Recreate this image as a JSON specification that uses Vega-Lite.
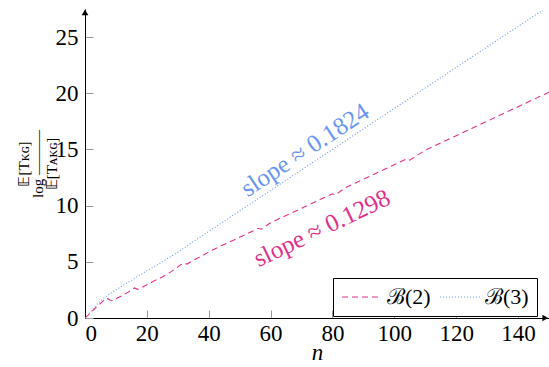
{
  "$schema": "https://vega.github.io/schema/vega-lite/v6.json",
  "width": 464,
  "height": 309,
  "autosize": {"type": "none"},
  "padding": {"left": 85, "top": 9, "right": 0, "bottom": 49},
  "background": "white",
  "config": {
    "view": {"stroke": null},
    "font": "Liberation Serif",
    "axis": {"grid": false, "domainColor": "#000000", "domainWidth": 1, "tickColor": "#999999", "labelFont": "Liberation Serif", "titleFont": "Liberation Serif", "labelColor": "#000000", "titleColor": "#000000", "titleFontWeight": "normal"}
  },
  "datasets": {
    "curves": [
      {"series": "ℬ(2)", "n": 0, "v": 0}, {"series": "ℬ(2)", "n": 1, "v": 0.25}, {"series": "ℬ(2)", "n": 2, "v": 0.5}, {"series": "ℬ(2)", "n": 3, "v": 0.8}, {"series": "ℬ(2)", "n": 4, "v": 1.05}, {"series": "ℬ(2)", "n": 5, "v": 1.3}, {"series": "ℬ(2)", "n": 6, "v": 1.55}, {"series": "ℬ(2)", "n": 7, "v": 1.78}, {"series": "ℬ(2)", "n": 8, "v": 1.6}, {"series": "ℬ(2)", "n": 9, "v": 1.55}, {"series": "ℬ(2)", "n": 10, "v": 1.7}, {"series": "ℬ(2)", "n": 12, "v": 2.0}, {"series": "ℬ(2)", "n": 14, "v": 2.3}, {"series": "ℬ(2)", "n": 15, "v": 2.5}, {"series": "ℬ(2)", "n": 16, "v": 2.68}, {"series": "ℬ(2)", "n": 17, "v": 2.55}, {"series": "ℬ(2)", "n": 18, "v": 2.65}, {"series": "ℬ(2)", "n": 20, "v": 2.95}, {"series": "ℬ(2)", "n": 22, "v": 3.25}, {"series": "ℬ(2)", "n": 25, "v": 3.65}, {"series": "ℬ(2)", "n": 28, "v": 4.15}, {"series": "ℬ(2)", "n": 31, "v": 4.75}, {"series": "ℬ(2)", "n": 32, "v": 4.88}, {"series": "ℬ(2)", "n": 33, "v": 4.8}, {"series": "ℬ(2)", "n": 35, "v": 5.15}, {"series": "ℬ(2)", "n": 38, "v": 5.55}, {"series": "ℬ(2)", "n": 40, "v": 5.88}, {"series": "ℬ(2)", "n": 44, "v": 6.42}, {"series": "ℬ(2)", "n": 48, "v": 6.93}, {"series": "ℬ(2)", "n": 52, "v": 7.45}, {"series": "ℬ(2)", "n": 55, "v": 7.84}, {"series": "ℬ(2)", "n": 56, "v": 7.98}, {"series": "ℬ(2)", "n": 57, "v": 7.9}, {"series": "ℬ(2)", "n": 60, "v": 8.48}, {"series": "ℬ(2)", "n": 64, "v": 9.0}, {"series": "ℬ(2)", "n": 68, "v": 9.51}, {"series": "ℬ(2)", "n": 72, "v": 10.03}, {"series": "ℬ(2)", "n": 76, "v": 10.54}, {"series": "ℬ(2)", "n": 79, "v": 10.93}, {"series": "ℬ(2)", "n": 80, "v": 11.05}, {"series": "ℬ(2)", "n": 81, "v": 10.95}, {"series": "ℬ(2)", "n": 84, "v": 11.58}, {"series": "ℬ(2)", "n": 88, "v": 12.09}, {"series": "ℬ(2)", "n": 92, "v": 12.61}, {"series": "ℬ(2)", "n": 96, "v": 13.12}, {"series": "ℬ(2)", "n": 100, "v": 13.64}, {"series": "ℬ(2)", "n": 103, "v": 14.03}, {"series": "ℬ(2)", "n": 104, "v": 14.16}, {"series": "ℬ(2)", "n": 105, "v": 14.05}, {"series": "ℬ(2)", "n": 110, "v": 14.93}, {"series": "ℬ(2)", "n": 115, "v": 15.58}, {"series": "ℬ(2)", "n": 120, "v": 16.22}, {"series": "ℬ(2)", "n": 125, "v": 16.87}, {"series": "ℬ(2)", "n": 130, "v": 17.51}, {"series": "ℬ(2)", "n": 135, "v": 18.16}, {"series": "ℬ(2)", "n": 140, "v": 18.8}, {"series": "ℬ(2)", "n": 145, "v": 19.45}, {"series": "ℬ(2)", "n": 150, "v": 20.09},
      {"series": "ℬ(3)", "n": 0, "v": 0}, {"series": "ℬ(3)", "n": 1, "v": 0.3}, {"series": "ℬ(3)", "n": 2, "v": 0.6}, {"series": "ℬ(3)", "n": 3, "v": 0.95}, {"series": "ℬ(3)", "n": 4, "v": 1.25}, {"series": "ℬ(3)", "n": 5, "v": 1.5}, {"series": "ℬ(3)", "n": 6, "v": 1.75}, {"series": "ℬ(3)", "n": 7, "v": 1.95}, {"series": "ℬ(3)", "n": 8, "v": 2.15}, {"series": "ℬ(3)", "n": 10, "v": 2.5}, {"series": "ℬ(3)", "n": 12, "v": 2.85}, {"series": "ℬ(3)", "n": 15, "v": 3.35}, {"series": "ℬ(3)", "n": 20, "v": 4.2}, {"series": "ℬ(3)", "n": 25, "v": 5.0}, {"series": "ℬ(3)", "n": 30, "v": 5.85}, {"series": "ℬ(3)", "n": 35, "v": 6.8}, {"series": "ℬ(3)", "n": 40, "v": 7.7}, {"series": "ℬ(3)", "n": 50, "v": 9.53}, {"series": "ℬ(3)", "n": 60, "v": 11.35}, {"series": "ℬ(3)", "n": 70, "v": 13.18}, {"series": "ℬ(3)", "n": 80, "v": 15.0}, {"series": "ℬ(3)", "n": 90, "v": 16.83}, {"series": "ℬ(3)", "n": 100, "v": 18.65}, {"series": "ℬ(3)", "n": 110, "v": 20.47}, {"series": "ℬ(3)", "n": 120, "v": 22.3}, {"series": "ℬ(3)", "n": 130, "v": 24.12}, {"series": "ℬ(3)", "n": 140, "v": 25.95}, {"series": "ℬ(3)", "n": 148, "v": 27.4}
    ],
    "one": [{}]
  },
  "layer": [
    {
      "data": {"name": "curves"},
      "mark": {"type": "line", "strokeWidth": 1.1, "clip": true},
      "encoding": {
        "x": {"field": "n", "type": "quantitative", "scale": {"domain": [0, 150], "nice": false, "zero": false},
          "axis": {"values": [0, 20, 40, 60, 80, 100, 120, 140], "labelFontSize": 23, "tickSize": -8, "labelPadding": 12, "title": "n", "titleFontSize": 23, "titleFontStyle": "italic", "titlePadding": -4}},
        "y": {"field": "v", "type": "quantitative", "scale": {"domain": [0, 27.5], "nice": false},
          "axis": {"values": [0, 5, 10, 15, 20, 25], "labelFontSize": 23, "tickSize": -8, "labelPadding": 15, "title": ["\u2003\u2002𝔼[Tᴋɢ]", "log ———", "\u2003\u2002𝔼[Tᴀᴋɢ]"], "titleFontSize": 15, "titleLineHeight": 14, "titlePadding": -4}},
        "color": {"field": "series", "type": "nominal", "scale": {"domain": ["ℬ(2)", "ℬ(3)"], "range": ["#E2308A", "#6A96F0"]},
          "legend": {"title": null, "orient": "none", "legendX": 248, "legendY": 269, "direction": "horizontal", "symbolType": "stroke", "symbolSize": 1600, "symbolStrokeWidth": 1.2, "clipHeight": 22, "labelFontSize": 22, "labelFont": "Liberation Serif", "labelColor": "#000000", "columnPadding": 8, "labelOffset": 4, "padding": 8, "strokeColor": "#000000", "fillColor": "#ffffff", "cornerRadius": 0}},
        "strokeDash": {"field": "series", "type": "nominal", "scale": {"domain": ["ℬ(2)", "ℬ(3)"], "range": [[6, 4], [1, 2]]}}
      }
    },
    {
      "data": {"name": "one"},
      "mark": {"type": "text", "text": "slope ≈ 0.1824", "angle": 326.5, "align": "center", "baseline": "middle", "fontSize": 25, "font": "Liberation Serif", "color": "#6A96F0"},
      "encoding": {"x": {"datum": 71.1}, "y": {"datum": 14.95}}
    },
    {
      "data": {"name": "one"},
      "mark": {"type": "text", "text": "slope ≈ 0.1298", "angle": 334.3, "align": "center", "baseline": "middle", "fontSize": 25, "font": "Liberation Serif", "color": "#E2308A"},
      "encoding": {"x": {"datum": 76.6}, "y": {"datum": 8.0}}
    },
    {
      "data": {"name": "one"},
      "mark": {"type": "point", "shape": "triangle-up", "filled": true, "size": 45, "color": "#000000", "opacity": 1},
      "encoding": {"x": {"datum": 0}, "y": {"datum": 27.2}}
    },
    {
      "data": {"name": "one"},
      "mark": {"type": "point", "shape": "triangle-right", "filled": true, "size": 45, "color": "#000000", "opacity": 1},
      "encoding": {"x": {"datum": 148.8}, "y": {"datum": 0}}
    }
  ]
}
